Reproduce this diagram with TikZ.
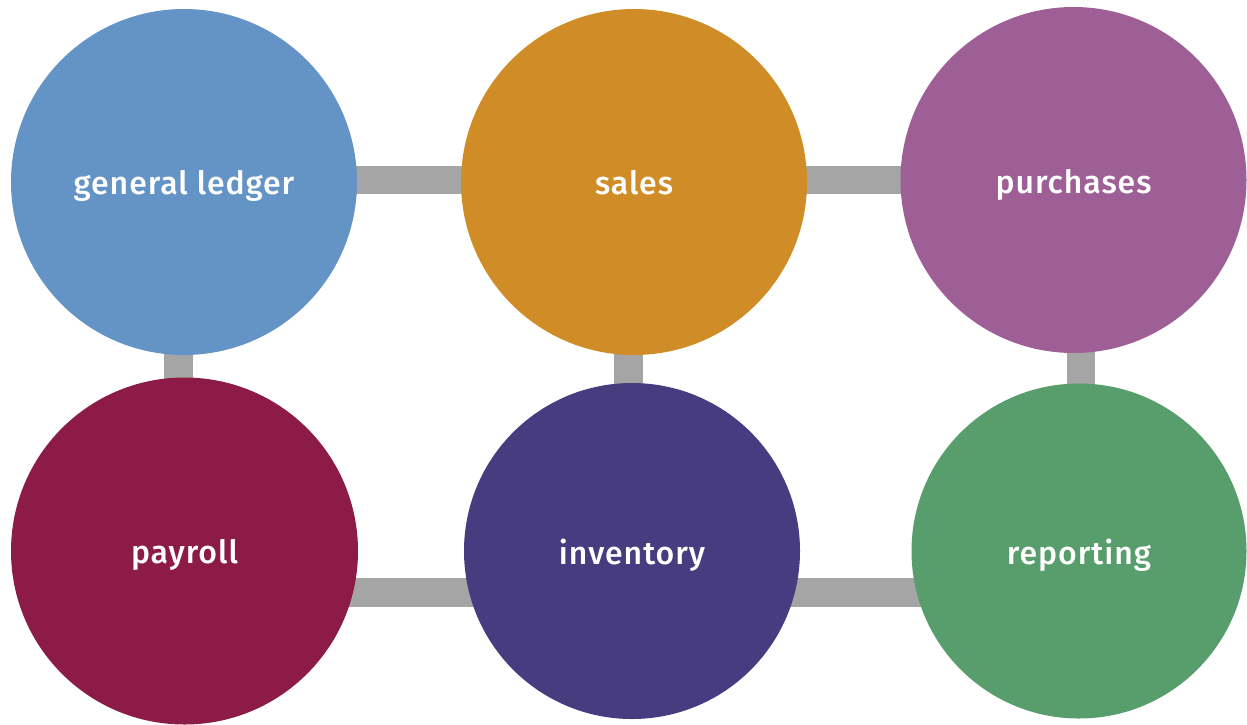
\documentclass[tikz,border=0pt]{standalone}
\usepackage{fontspec}
\usetikzlibrary{backgrounds}
\newfontfamily\labfont{Fira Sans Medium}[LetterSpace=3]
\definecolor{cgl}{HTML}{6394C5}
\definecolor{csales}{HTML}{D08C27}
\definecolor{cpur}{HTML}{9E5F97}
\definecolor{cpay}{HTML}{8C1C47}
\definecolor{cinv}{HTML}{483C81}
\definecolor{crep}{HTML}{589E6C}
\definecolor{cbar}{HTML}{A5A5A5}
\tikzset{
  circ/.style={circle, inner sep=0pt, draw=none},
  lab/.style={anchor=base, inner sep=0pt, text=white, font=\labfont\fontsize{32}{38}\selectfont},
  bar/.style={draw=cbar, line width=28.5pt}
}
\begin{document}
\begin{tikzpicture}[x=1pt,y=-1pt]
\useasboundingbox (0,0) rectangle (1247,724);
\node[circ, fill=cgl,    minimum size=346pt] (gl)  at (184,182) {};
\node[circ, fill=csales, minimum size=346pt] (sa)  at (634,182) {};
\node[circ, fill=cpur,   minimum size=346pt] (pu)  at (1073.5,180) {};
\node[circ, fill=cpay,   minimum size=347pt] (pa)  at (184.5,551) {};
\node[circ, fill=cinv,   minimum size=336pt] (in)  at (632,551) {};
\node[circ, fill=crep,   minimum size=335pt] (re)  at (1079,551) {};
\begin{scope}[on background layer]
\draw[bar] ([yshift=2pt]gl.center) -- ([yshift=2pt]sa.center);
\draw[bar] ([yshift=2pt]sa.center) -- (pu.center);
\draw[bar] ([yshift=-41.5pt]pa.center) -- ([yshift=-41.5pt]in.center);
\draw[bar] ([yshift=-41.5pt]in.center) -- ([yshift=-41.5pt]re.center);
\draw[bar] ([xshift=-5.5pt]gl.center) -- ([xshift=-6pt]pa.center);
\draw[bar] ([xshift=-5.5pt]sa.center) -- ([xshift=-3.5pt]in.center);
\draw[bar] ([xshift=7.5pt]pu.center) -- ([xshift=2pt]re.center);
\end{scope}
\node[lab] (tgl) at ([yshift=-12.5pt]gl.center) {general ledger};
\node[lab] (tsa) at ([yshift=-12.5pt]sa.center) {sales};
\node[lab] (tpu) at ([yshift=-13pt]pu.center) {purchases};
\node[lab] (tpa) at ([yshift=-12pt]pa.center) {payroll};
\node[lab] (tin) at ([yshift=-13pt]in.center) {inventory};
\node[lab] (tre) at ([yshift=-13pt]re.center) {reporting};
\end{tikzpicture}
\end{document}
